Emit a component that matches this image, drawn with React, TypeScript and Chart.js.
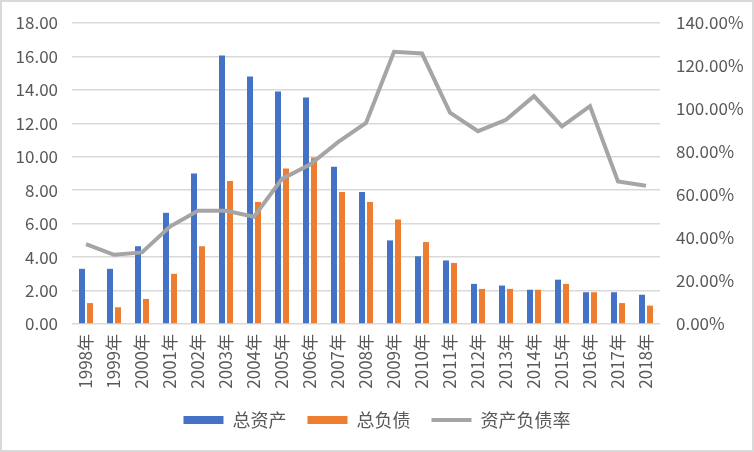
import React, { useEffect, useRef } from "react";
import { Chart, registerables } from "chart.js";

Chart.register(...registerables);

const categories = ["1998年","1999年","2000年","2001年","2002年","2003年","2004年","2005年","2006年","2007年","2008年","2009年","2010年","2011年","2012年","2013年","2014年","2015年","2016年","2017年","2018年"];
const totalAssets = [3.3, 3.3, 4.65, 6.65, 9.0, 16.05, 14.8, 13.9, 13.55, 9.4, 7.9, 5.0, 4.05, 3.8, 2.4, 2.3, 2.05, 2.65, 1.9, 1.9, 1.75];
const totalLiabilities = [1.25, 1.0, 1.5, 3.0, 4.65, 8.55, 7.3, 9.3, 9.95, 7.9, 7.3, 6.25, 4.9, 3.65, 2.1, 2.1, 2.05, 2.4, 1.9, 1.25, 1.1];
const debtRatio = [37.2, 32.2, 33.3, 45.3, 52.7, 52.7, 49.9, 67.5, 74.2, 84.6, 93.5, 126.6, 125.8, 98.3, 89.7, 95.0, 106.0, 91.9, 101.3, 66.3, 64.3];

const FONT = '"Noto Sans CJK SC", "Noto Sans", sans-serif';
const TICK_COLOR = "#595959";
const GRID = "#D9D9D9";

export default function App() {
  const ref = useRef<HTMLCanvasElement | null>(null);

  useEffect(() => {
    document.body.style.margin = "0";
    if (!ref.current) return;
    const chart = new Chart(ref.current, {
      type: "bar",
      data: {
        labels: categories,
        datasets: [
          {
            type: "bar",
            label: "总资产",
            data: totalAssets,
            backgroundColor: "#4472C4",
            borderWidth: 0,
            yAxisID: "y",
            barPercentage: 0.75,
            categoryPercentage: 0.57,
            pointStyle: "rect",
            order: 2,
          },
          {
            type: "bar",
            label: "总负债",
            data: totalLiabilities,
            backgroundColor: "#ED7D31",
            borderWidth: 0,
            yAxisID: "y",
            barPercentage: 0.75,
            categoryPercentage: 0.57,
            pointStyle: "rect",
            order: 2,
          },
          {
            type: "line",
            label: "资产负债率",
            data: debtRatio,
            borderColor: "#A5A5A5",
            backgroundColor: "#A5A5A5",
            borderWidth: 4,
            pointRadius: 0,
            pointHoverRadius: 0,
            pointStyle: "line",
            tension: 0,
            yAxisID: "y1",
            order: 1,
          },
        ],
      } as any,
      options: {
        animation: false,
        responsive: false,
        maintainAspectRatio: false,
        layout: { padding: { top: 21, left: 0, right: 0, bottom: 11 } },
        plugins: {
          tooltip: { enabled: false },
          legend: {
            position: "bottom",
            labels: {
              usePointStyle: true,
              pointStyleWidth: 40,
              boxWidth: 40,
              boxHeight: 8,
              padding: 21,
              color: TICK_COLOR,
              font: { family: FONT, size: 18 },
              sort: (a: any, b: any) => a.datasetIndex - b.datasetIndex,
            },
          },
        },
        scales: {
          x: {
            grid: { display: false, drawTicks: false },
            border: { display: false },
            ticks: {
              color: TICK_COLOR,
              font: { family: FONT, size: 17 },
              maxRotation: 90,
              minRotation: 90,
              padding: 10,
              autoSkip: false,
            },
            afterFit: (s: any) => { s.height = 66; },
          },
          y: {
            position: "left",
            min: 0,
            max: 18,
            grid: { color: GRID, lineWidth: 1.5, drawTicks: true, tickLength: 8, tickColor: "rgba(0,0,0,0)" },
            border: { display: false },
            ticks: {
              stepSize: 2,
              color: TICK_COLOR,
              font: { family: FONT, size: 17 },
              padding: 6,
              callback: (v: any) => Number(v).toFixed(2),
            },
            afterFit: (s: any) => { s.width = 70; },
          },
          y1: {
            position: "right",
            min: 0,
            max: 140,
            grid: { display: true, drawOnChartArea: false, drawTicks: true, tickLength: 10, color: "rgba(0,0,0,0)", tickColor: "rgba(0,0,0,0)" },
            border: { display: false },
            ticks: {
              stepSize: 20,
              color: TICK_COLOR,
              font: { family: FONT, size: 17 },
              padding: 6,
              callback: (v: any) => Number(v).toFixed(2) + "%",
            },
            afterFit: (s: any) => { s.width = 92; },
          },
        },
      },
    });
    return () => chart.destroy();
  }, []);

  return (
    <div
      style={{
        width: 754,
        height: 452,
        boxSizing: "border-box",
        border: "2px solid #D9D9D9",
        background: "#fff",
      }}
    >
      <canvas ref={ref} width={750} height={448} style={{ display: "block", width: 750, height: 448 }} />
    </div>
  );
}
